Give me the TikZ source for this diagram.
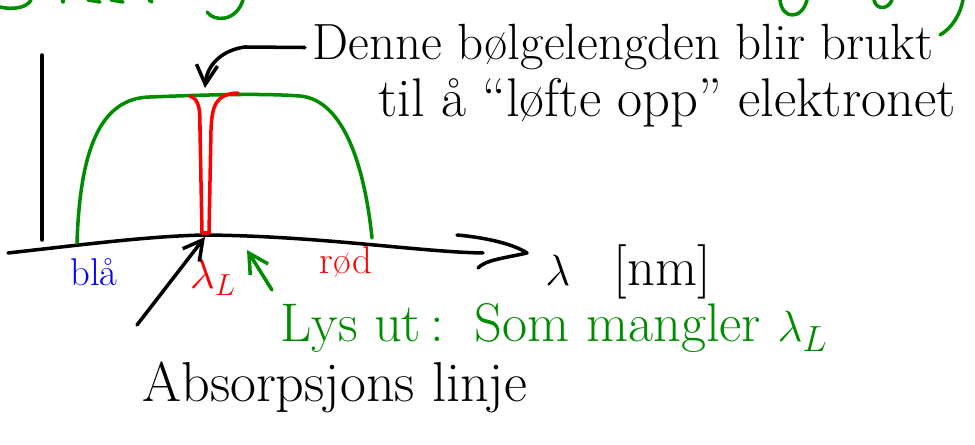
\documentclass[tikz,border=0pt]{standalone}
\usetikzlibrary{arrows.meta}

\definecolor{penblue}{RGB}{0,0,255}
\definecolor{pengreen}{RGB}{0,140,0}
\definecolor{penred}{RGB}{255,0,0}

\tikzset{
  pen/.style={line width=2pt, line cap=round, line join=round},
  tip/.style={-{Straight Barb[length=11pt, width=12pt, line width=2pt]}},
  hand/.style={inner sep=0pt},
}

\begin{document}
\begin{tikzpicture}[x=0.02cm, y=-0.02cm]
\useasboundingbox (0,0) rectangle (975,445);

\draw[pen, pengreen] (0,7) .. controls (12,10) and (27,8) .. (31,0);
\draw[pen, pengreen] (63,0) -- (63,2);
\draw[pen, pengreen] (88,0) -- (100,2);
\draw[pen, pengreen] (111,0) -- (123,2);
\draw[pen, pengreen] (149,0) -- (152,2);
\draw[pen, pengreen] (207,12) .. controls (214,22) and (236,22) .. (243,0);
\draw[pen, pengreen] (780,0) .. controls (782,20) and (802,20) .. (807,0);
\draw[pen, pengreen] (874,0) .. controls (876,10) and (888,10) .. (892,0);
\draw[pen, pengreen] (963,0) .. controls (960,15) and (952,28) .. (940,35);

\coordinate (ytop) at (42,55);
\coordinate (ybot) at (42,240);
\draw[pen] (ytop) -- (ybot);

\coordinate (xstart) at (8,253);
\coordinate (xend) at (483,253);
\coordinate (xtip) at (527,253);
\draw[pen] (xstart) .. controls (80,245) and (150,236) .. (205,235)
    .. controls (320,236) and (420,252) .. (xend);
\draw[pen] (457,235) .. controls (490,238) and (515,245) .. (xtip)
    .. controls (505,258) and (485,260) .. (478,268);

\node[hand, anchor=west, font=\fontsize{31}{34}\selectfont] (axislabel) at (545,272) {$\lambda$\hspace{0.8em}[nm]};

\draw[pen, pengreen] (77,243) .. controls (80,150) and (100,98) .. (150,97)
    .. controls (200,95) and (260,93) .. (300,96)
    .. controls (345,100) and (365,170) .. (372,238);

\draw[pen, penred] (190,96) .. controls (200,100) and (200,110) .. (200,130)
    -- (202,233) -- (209,233) -- (211,130)
    .. controls (212,105) and (216,94) .. (238,93);

\node[hand, anchor=base west, font=\fontsize{29}{32}\selectfont] (line1) at (312,60) {Denne bølgelengden blir brukt};
\node[hand, anchor=base west, font=\fontsize{31}{34}\selectfont] (line2) at (378,117) {til å ``løfte opp'' elektronet};
\coordinate (peak) at (205,88);
\draw[pen, tip] ([xshift=-4pt]line1.west) -- (245,47) .. controls (222,50) and (207,65) .. (peak);

\node[hand, penblue, font=\fontsize{22}{24}\selectfont] (blue) at (94,272) {blå};
\node[hand, penred, font=\fontsize{22}{24}\selectfont] (red) at (346,262) {rød};
\node[hand, penred, font=\fontsize{26}{28}\selectfont] (lambdaL) at (213,277) {$\lambda_L$};

\coordinate (dip) at (205,237);
\coordinate (abstail) at (137,325);
\node[hand, anchor=base west, font=\fontsize{32}{35}\selectfont] (abs) at (142,402) {Absorpsjons linje};
\draw[pen, tip] (abstail) -- (dip);

\coordinate (gtip) at (247,250);
\coordinate (gtail) at (272,290);
\node[hand, pengreen, anchor=base west, font=\fontsize{31}{34}\selectfont] (lysut) at (280,342) {Lys ut\,:\, Som mangler $\lambda_L$};
\draw[pen, pengreen, tip] (gtail) -- (gtip);

\end{tikzpicture}
\end{document}
